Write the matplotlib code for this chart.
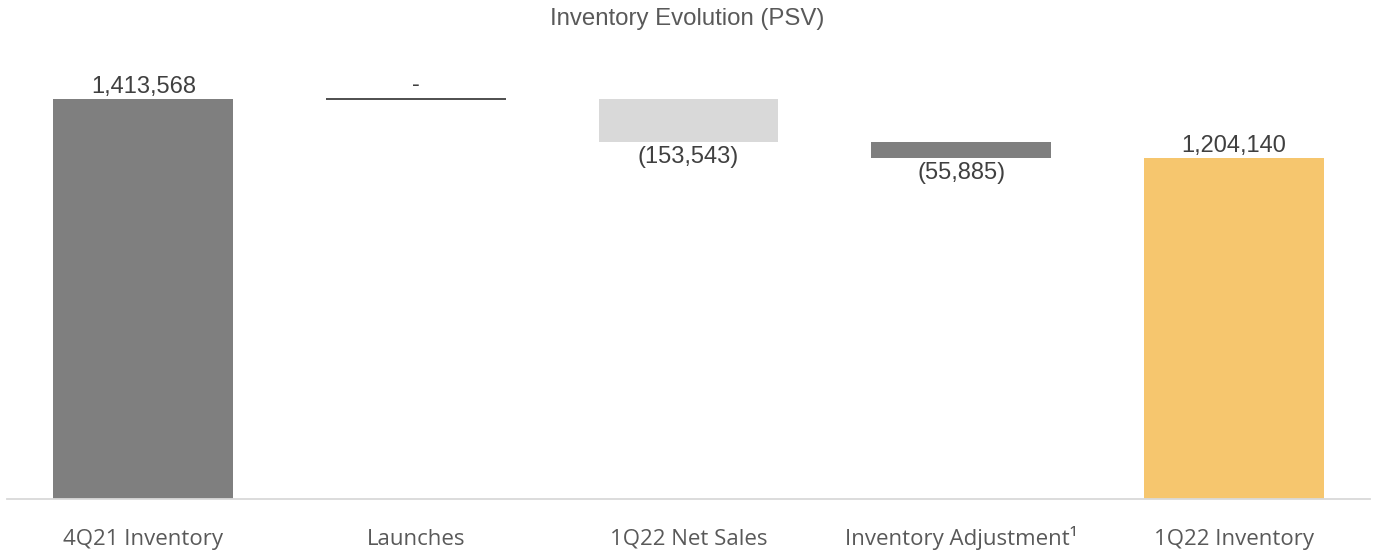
import matplotlib.pyplot as plt
import numpy as np

categories = ["4Q21 Inventory", "Launches", "1Q22 Net Sales",
              "Inventory Adjustment\u00b9", "1Q22 Inventory"]
values = [1413568, 0, -153543, -55885, 1204140]
is_total = [True, False, False, False, True]
colors = ["#7F7F7F", "#404040", "#D9D9D9", "#7F7F7F", "#F6C66E"]

def fmt(v):
    if v == 0:
        return "-"
    if v < 0:
        return "({:,})".format(-v)
    return "{:,}".format(v)

fig = plt.figure(figsize=(13.75, 5.53), dpi=100)
ax = fig.add_axes([0.0051, 0.0976, 0.9913, 0.8189])

x = np.arange(len(categories))
w = 0.66
lbl = dict(fontsize=17, color="#404040", family="Liberation Sans", ha="center")
running = 0
for i, v in enumerate(values):
    if is_total[i]:
        bottom, top = 0, v
        running = v
    else:
        bottom, top = running + min(v, 0), running + max(v, 0)
        running += v
    if v == 0:
        ax.hlines(running, x[i] - w / 2, x[i] + w / 2, color=colors[i], lw=1.3)
        ax.text(x[i], running + 9000, fmt(v), va="bottom", **lbl)
        continue
    ax.bar(x[i], top - bottom, bottom=bottom, width=w, color=colors[i])
    if v < 0:
        ax.text(x[i], bottom - 12000, fmt(v), va="top", **lbl)
    else:
        ax.text(x[i], top + 4000, fmt(v), va="bottom", **lbl)

ax.set_xlim(-0.5, 4.5)
ax.set_ylim(0, 1600000)
ax.set_xticks(x)
ax.set_xticklabels(categories, fontsize=16, color="#595959",
                   family=["Open Sans", "DejaVu Sans"])
# align on the baseline so the footnote mark does not push its label down
for t in ax.get_xticklabels():
    t.set_va("baseline")
ax.tick_params(axis="x", length=0, pad=33)
ax.set_yticks([])
for s in ["top", "right", "left"]:
    ax.spines[s].set_visible(False)
ax.spines["bottom"].set_color("#D9D9D9")
ax.spines["bottom"].set_linewidth(1.3)

fig.text(0.5, 0.966, "Inventory Evolution (PSV)", ha="center", va="center",
         fontsize=17.3, color="#595959", family="Liberation Sans")

fig.savefig("out.png", dpi=100)
